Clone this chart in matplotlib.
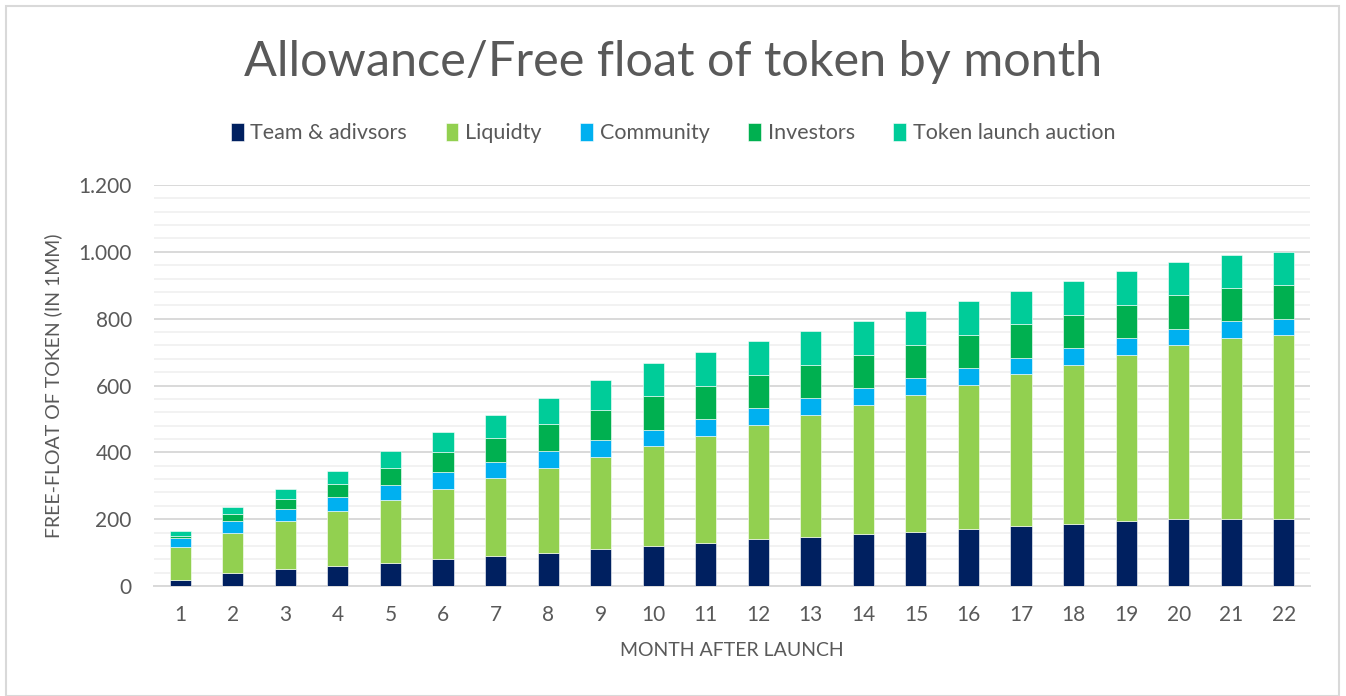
import matplotlib
matplotlib.use("Agg")
import matplotlib.pyplot as plt
from matplotlib.ticker import FuncFormatter, MultipleLocator
from matplotlib.patches import Rectangle
import numpy as np

# =========================
# DATA
# =========================
months = list(range(1, 23))
team = [18, 40, 50, 60, 70, 80, 90, 100, 110, 120, 130, 140,
        148, 156, 163, 171, 179, 187, 195, 200, 200, 200]
liquidity = [99, 120, 145, 165, 188, 210, 232, 254, 276, 298, 319, 342,
             364, 386, 409, 431, 454, 475, 497, 520, 542, 550]
community = [27, 35, 35, 40, 45, 50, 50, 50, 50, 50, 50, 50,
             50, 50, 50, 50, 50, 50, 50, 50, 50, 50]
investors = [7, 20, 30, 40, 50, 60, 70, 80, 90, 100, 100, 100,
             100, 100, 100, 100, 100, 100, 100, 100, 100, 100]
token_auction = [13, 20, 30, 40, 50, 60, 70, 80, 90, 100, 100, 100,
                 100, 100, 100, 100, 100, 100, 100, 100, 100, 100]

series_names = ["Team & adivsors", "Liquidty", "Community", "Investors",
                "Token launch auction"]
colors = ["#002060", "#92D050", "#00B0F0", "#00B050", "#00CC99"]

TEXT = "#595959"
FONT = "Lato"

plt.rcParams["font.family"] = [FONT, "DejaVu Sans"]

fig = plt.figure(figsize=(13.46, 6.96), dpi=100)
W, H = 1346, 696
ax = fig.add_axes([154 / W, 1 - 586 / H, (1310 - 154) / W, (586 - 185) / H])

series = [team, liquidity, community, investors, token_auction]
bottom = np.zeros(len(months))
handles = []
for vals, name, col in zip(series, series_names, colors):
    b = ax.bar(months, vals, width=0.4, bottom=bottom, color=col,
               edgecolor="white", linewidth=0.4, label=name, zorder=3)
    handles.append(b)
    bottom += np.array(vals)

ax.set_xlim(0.5, 22.5)
ax.set_ylim(0, 1200)
ax.set_xticks(months)
ax.yaxis.set_major_locator(MultipleLocator(200))
ax.yaxis.set_minor_locator(MultipleLocator(40))
ax.yaxis.set_major_formatter(FuncFormatter(lambda v, p: f"{int(v):,}".replace(",", ".")))

ax.grid(axis="y", which="minor", color="#f2f2f2", linewidth=1.4, zorder=0)
ax.grid(axis="y", which="major", color="#d9d9d9", linewidth=1.4, zorder=1)
ax.set_axisbelow(True)

for s in ["top", "right", "left"]:
    ax.spines[s].set_visible(False)
ax.spines["bottom"].set_color("#d9d9d9")
ax.spines["bottom"].set_linewidth(1.4)

ax.tick_params(axis="both", which="both", length=0, labelsize=15, colors=TEXT)
ax.tick_params(axis="x", pad=14)
ax.tick_params(axis="y", pad=16)

ax.set_xlabel("MONTH AFTER LAUNCH", fontsize=14, color=TEXT, labelpad=12)
ax.set_ylabel("FREE-FLOAT OF TOKEN (IN 1MM)", fontsize=14, color=TEXT, labelpad=12)

fig.text(0.5, 1 - 62 / H, "Allowance/Free float of token by month",
         ha="center", va="center", fontsize=35, color=TEXT)

leg = fig.legend(handles=handles, labels=series_names, loc="center",
                 bbox_to_anchor=(0.5, 1 - 133 / H), ncol=5, frameon=False,
                 fontsize=15.5, handlelength=0.6, handleheight=0.9,
                 handletextpad=0.3, columnspacing=1.8)
for t in leg.get_texts():
    t.set_color(TEXT)

# chart-area border
fig.patches.append(Rectangle((6 / W, 0), (1339 - 6) / W, 1 - 6 / H,
                             transform=fig.transFigure, fill=False,
                             edgecolor="#d9d9d9", linewidth=1.5))

fig.savefig("out.png", dpi=100)
